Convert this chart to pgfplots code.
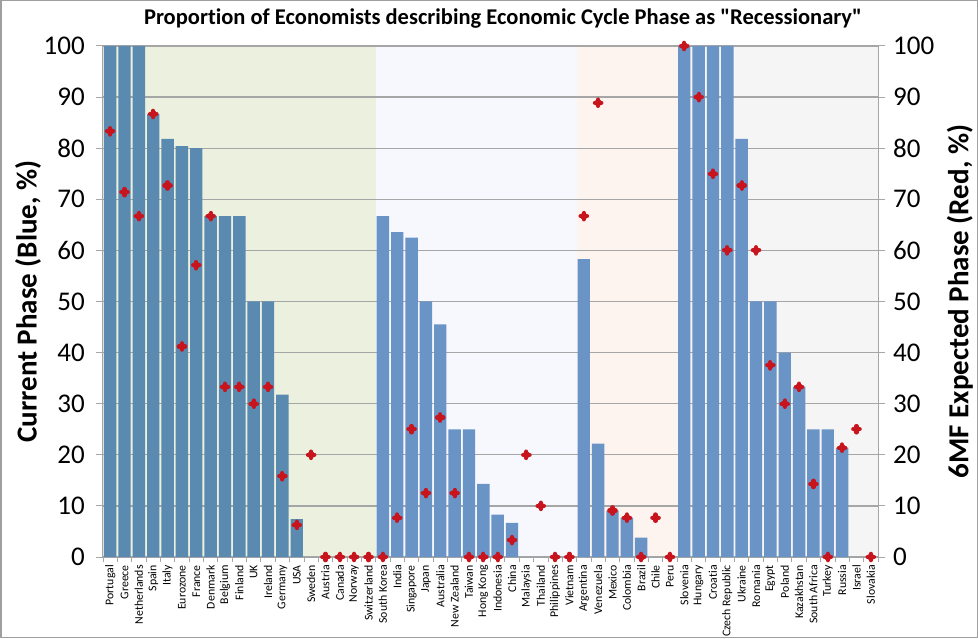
\documentclass[border=0pt]{standalone}
\usepackage{fontspec}
\setmainfont{Carlito}[Ligatures={TeXOff,CommonOff}]
\usepackage{pgfplots}
\usepackage{pgfplotstable}
\pgfplotsset{compat=1.18}
\definecolor{barA}{HTML}{5B8AB0}
\definecolor{barB}{HTML}{6A93C6}
\definecolor{bgGreen}{HTML}{EBF1DE}
\definecolor{bgBlue}{HTML}{F6F8FE}
\definecolor{bgPink}{HTML}{FDF4EF}
\definecolor{bgGray}{HTML}{F5F5F5}
\definecolor{dotRed}{HTML}{C8141C}
\definecolor{gridG}{HTML}{A6A6A6}
\pgfdeclareplotmark{blob}{%
  \pgfpathcircle{\pgfpointorigin}{3.6pt}\pgfusepathqfill
  \pgfsetlinewidth{4.2pt}\pgfsetroundcap
  \pgfpathmoveto{\pgfpoint{-3.2pt}{0pt}}\pgfpathlineto{\pgfpoint{3.2pt}{0pt}}
  \pgfpathmoveto{\pgfpoint{0pt}{-3.2pt}}\pgfpathlineto{\pgfpoint{0pt}{3.2pt}}
  \pgfusepathqstroke}
\pgfplotstableread{
x cur exp
0 100 83.3
1 100 71.4
2 100 66.7
3 86.7 86.7
4 81.8 72.7
5 80.4 41.2
6 80 57.1
7 66.7 66.7
8 66.7 33.3
9 66.7 33.3
10 50 30
11 50 33.3
12 31.8 15.8
13 7.4 6.3
14 0 20
15 0 0
16 0 0
17 0 0
18 0 0
19 66.7 0
20 63.6 7.7
21 62.5 25
22 50 12.5
23 45.5 27.3
24 25 12.5
25 25 0
26 14.3 0
27 8.3 0
28 6.7 3.3
29 0 20
30 0 10
31 0 0
32 0 0
33 58.3 66.7
34 22.2 88.9
35 9.1 9.1
36 7.7 7.7
37 3.8 0
38 0 7.7
39 0 0
40 100 100
41 100 90
42 100 75
43 100 60
44 81.8 72.7
45 50 60
46 50 37.5
47 40 30
48 33.3 33.3
49 25 14.3
50 25 0
51 21.4 21.4
52 0 25
53 0 0
}\data
\begin{document}
\begin{tikzpicture}[x=1pt,y=1pt]
\path[use as bounding box] (0,0) rectangle (978,638);
\fill[white] (0,0) rectangle (978,638);
\draw[gray!75, line width=1.5pt] (0.75,0.75) rectangle (977.25,637.25);
\begin{axis}[
  at={(103pt,81pt)}, anchor=south west,
  width=775pt, height=511pt, scale only axis,
  xmin=-0.5, xmax=53.5, ymin=0, ymax=100,
  hide axis,
]
\addplot[fill=bgGreen, draw=none] coordinates {(-0.5,0) (-0.5,100) (18.5,100) (18.5,0)} -- cycle;
\addplot[fill=bgBlue, draw=none] coordinates {(18.5,0) (18.5,100) (32.5,100) (32.5,0)} -- cycle;
\addplot[fill=bgPink, draw=none] coordinates {(32.5,0) (32.5,100) (39.5,100) (39.5,0)} -- cycle;
\addplot[fill=bgGray, draw=none] coordinates {(39.5,0) (39.5,100) (53.5,100) (53.5,0)} -- cycle;
\end{axis}
\begin{axis}[
  at={(103pt,81pt)}, anchor=south west,
  width=775pt, height=511pt, scale only axis,
  xmin=-0.5, xmax=53.5, ymin=0, ymax=100,
  axis x line*=bottom, axis y line*=left,
  axis line style={gridG, line width=1pt},
  xtick={0,...,53},
  xticklabels={Portugal,Greece,Netherlands,Spain,Italy,Eurozone,France,Denmark,Belgium,Finland,UK,Ireland,Germany,USA,Sweden,Austria,Canada,Norway,Switzerland,South Korea,India,Singapore,Japan,Australia,New Zealand,Taiwan,Hong Kong,Indonesia,China,Malaysia,Thailand,Philippines,Vietnam,Argentina,Venezuela,Mexico,Colombia,Brazil,Chile,Peru,Slovenia,Hungary,Croatia,Czech Republic,Ukraine,Romania,Egypt,Poland,Kazakhstan,South Africa,Turkey,Russia,Israel,Slovakia},
  minor xtick={-0.5,0.5,...,53.5},
  major x tick style={draw=none},
  minor x tick style={gridG, line width=0.8pt},
  minor tick length=5pt,
  tick align=outside,
  xticklabel style={rotate=90, anchor=east, font=\fontsize{11.8}{11.8}\selectfont, inner sep=1pt},
  ytick={0,10,...,100},
  major y tick style={gridG, line width=1pt},
  major tick length=7pt,
  yticklabel style={font=\fontsize{27}{27}\selectfont, inner sep=2pt, xshift=-9pt},
  /pgf/number format/assume math mode=true,
  ymajorgrids, grid style={gridG, line width=1.2pt},
  ylabel={\bfseries Current Phase (Blue, \%)},
  ylabel style={at={(axis description cs:-0.0968,0.5)}, anchor=center, font=\fontsize{29}{29}\selectfont},
]
\addplot[ybar, bar width=12.4pt, bar shift=0pt, fill=barA, draw=none, restrict x to domain=0:18] table[x=x, y=cur] {\data};
\addplot[ybar, bar width=12.4pt, bar shift=0pt, fill=barB, draw=none, restrict x to domain=19:53] table[x=x, y=cur] {\data};
\end{axis}
\begin{axis}[
  at={(103pt,81pt)}, anchor=south west,
  width=775pt, height=511pt, scale only axis,
  xmin=-0.5, xmax=53.5, ymin=0, ymax=100,
  axis x line=none, axis y line*=right,
  axis line style={gridG, line width=1pt},
  ytick={0,10,...,100},
  major y tick style={gridG, line width=1pt},
  major tick length=7pt, tick align=outside,
  yticklabel style={font=\fontsize{27}{27}\selectfont, inner sep=2pt, xshift=6pt},
  /pgf/number format/assume math mode=true,
  ylabel={\bfseries 6MF Expected Phase (Red, \%)},
  ylabel style={at={(axis description cs:1.1058,0.5)}, anchor=center, rotate=0, font=\fontsize{29}{29}\selectfont},
  clip=false,
]
\addplot[only marks, mark=blob, color=dotRed] table[x=x, y=exp] {\data};
\end{axis}
\node[font=\bfseries\fontsize{22.5}{22.5}\selectfont] at (503,619) {Proportion of Economists describing Economic Cycle Phase as "Recessionary"};
\end{tikzpicture}
\end{document}
